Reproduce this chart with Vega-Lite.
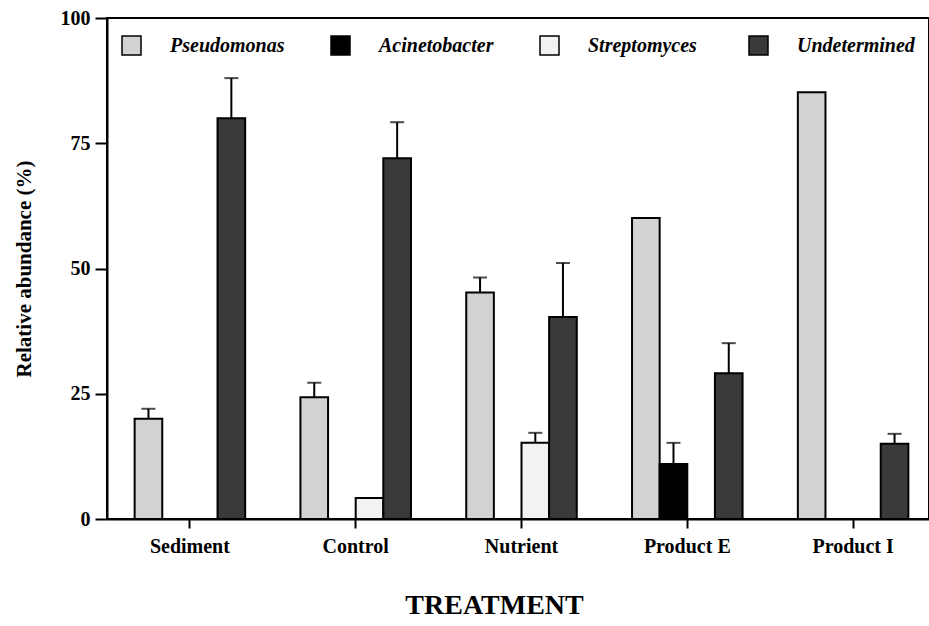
{
  "$schema": "https://vega.github.io/schema/vega-lite/v6.json",
  "width": 822,
  "height": 501,
  "autosize": "none",
  "padding": {"left": 107, "top": 18, "right": 0, "bottom": 107},
  "background": "white",
  "config": {
    "view": {"stroke": "black", "strokeWidth": 2},
    "font": "Liberation Serif",
    "axis": {
      "labelFont": "Liberation Serif", "labelFontWeight": "bold", "labelFontSize": 20, "labelColor": "black",
      "titleFont": "Liberation Serif", "titleFontWeight": "bold", "titleColor": "black",
      "domainColor": "black", "domainWidth": 2, "tickColor": "black", "tickWidth": 2, "grid": false
    }
  },
  "data": {
    "values": [
      {"treatment": "Sediment", "genus": "Pseudomonas", "value": 20, "hi": 22},
      {"treatment": "Sediment", "genus": "Undetermined", "value": 80, "hi": 88},
      {"treatment": "Control", "genus": "Pseudomonas", "value": 24.3, "hi": 27.2},
      {"treatment": "Control", "genus": "Streptomyces", "value": 4.2, "hi": null},
      {"treatment": "Control", "genus": "Undetermined", "value": 72, "hi": 79.2},
      {"treatment": "Nutrient", "genus": "Pseudomonas", "value": 45.2, "hi": 48.2},
      {"treatment": "Nutrient", "genus": "Streptomyces", "value": 15.2, "hi": 17.2},
      {"treatment": "Nutrient", "genus": "Undetermined", "value": 40.3, "hi": 51.1},
      {"treatment": "Product E", "genus": "Pseudomonas", "value": 60.1, "hi": null},
      {"treatment": "Product E", "genus": "Acinetobacter", "value": 11, "hi": 15.2},
      {"treatment": "Product E", "genus": "Undetermined", "value": 29.1, "hi": 35.1},
      {"treatment": "Product I", "genus": "Pseudomonas", "value": 85.2, "hi": null},
      {"treatment": "Product I", "genus": "Undetermined", "value": 15, "hi": 17}
    ]
  },
  "encoding": {
    "x": {
      "field": "treatment", "type": "nominal",
      "sort": ["Sediment", "Control", "Nutrient", "Product E", "Product I"],
      "scale": {"paddingInner": 0, "paddingOuter": 0, "range": [0, 829]},
      "axis": {"title": "TREATMENT", "titleFontSize": 28, "titlePadding": 35, "titleX": 387, "labelAngle": 0, "tickSize": 9, "labelPadding": 8}
    },
    "xOffset": {
      "field": "genus", "type": "nominal",
      "sort": ["Pseudomonas", "Acinetobacter", "Streptomyces", "Undetermined"],
      "scale": {"paddingInner": 0, "paddingOuter": 1}
    }
  },
  "layer": [
    {
      "mark": {"type": "bar", "stroke": "black", "strokeWidth": 2},
      "encoding": {
        "y": {
          "field": "value", "type": "quantitative",
          "scale": {"domain": [0, 100], "nice": false},
          "axis": {"values": [0, 25, 50, 75, 100], "title": "Relative abundance (%)", "titleFontSize": 21, "titlePadding": 26, "tickSize": 12, "labelPadding": 5}
        },
        "fill": {
          "field": "genus", "type": "nominal",
          "sort": ["Pseudomonas", "Acinetobacter", "Streptomyces", "Undetermined"],
          "scale": {"domain": ["Pseudomonas", "Acinetobacter", "Streptomyces", "Undetermined"], "range": ["#d2d2d2", "#000000", "#f2f2f2", "#3a3a3a"]},
          "legend": {
            "title": null, "orient": "none", "legendX": 14, "legendY": 17,
            "direction": "horizontal", "columns": 4, "gridAlign": "all", "columnPadding": 40,
            "symbolType": "square", "symbolSize": 361, "symbolStrokeColor": "black", "symbolStrokeWidth": 1.5, "symbolOpacity": 1,
            "labelFont": "Liberation Serif", "labelFontStyle": "italic", "labelFontWeight": "bold", "labelFontSize": 20, "labelColor": "black",
            "labelOffset": 28, "labelLimit": 200
          }
        }
      }
    },
    {
      "transform": [{"filter": "datum.hi != null"}],
      "mark": {"type": "rule", "color": "black", "strokeWidth": 2},
      "encoding": {
        "y": {"field": "value", "type": "quantitative"},
        "y2": {"field": "hi"}
      }
    },
    {
      "transform": [{"filter": "datum.hi != null"}],
      "mark": {"type": "tick", "color": "black", "thickness": 2, "size": 14, "orient": "horizontal"},
      "encoding": {
        "y": {"field": "hi", "type": "quantitative"}
      }
    }
  ]
}
